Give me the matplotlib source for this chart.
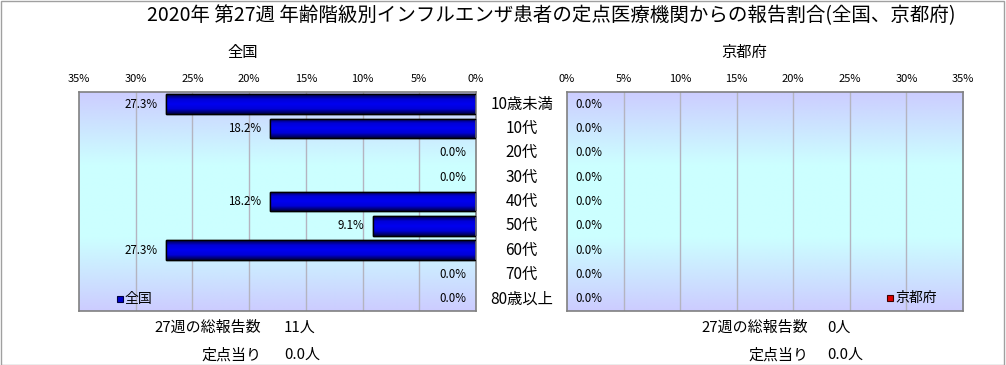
import matplotlib
matplotlib.use("Agg")
import matplotlib.pyplot as plt
import numpy as np
from matplotlib.colors import LinearSegmentedColormap
from matplotlib.transforms import offset_copy

plt.rcParams['font.family'] = ['Noto Sans CJK JP', 'DejaVu Sans']

categories = ["10歳未満", "10代", "20代", "30代", "40代", "50代", "60代", "70代", "80歳以上"]
national = [27.3, 18.2, 0.0, 0.0, 18.2, 9.1, 27.3, 0.0, 0.0]
kyoto = [0.0, 0.0, 0.0, 0.0, 0.0, 0.0, 0.0, 0.0, 0.0]
xticks = [0, 5, 10, 15, 20, 25, 30, 35]
title = "2020年 第27週 年齢階級別インフルエンザ患者の定点医療機関からの報告割合(全国、京都府)"
national_total = "11人"
national_per = "0.0人"
kyoto_total = "0人"
kyoto_per = "0.0人"
week_label = "27週の総報告数"
per_label = "定点当り"

W, H = 1006, 365
fig = plt.figure(figsize=(W / 100, H / 100), dpi=100)
fig.patch.set_facecolor("white")

def fx(px):
    return px / W

def fy(py):
    return 1 - py / H

bg_cmap = LinearSegmentedColormap.from_list("bg", ["#CCCCFF", "#CCFFFF", "#CCFFFF", "#CCCCFF"])
bar_cmap_blue = LinearSegmentedColormap.from_list("bb", ["#000040", "#0000D8", "#0000F0", "#0000D8", "#000040"])

ax_l = fig.add_axes([fx(79), fy(311), fx(397), (311 - 92) / H])
ax_r = fig.add_axes([fx(567), fy(311), fx(396), (311 - 92) / H])

ypos = np.arange(len(categories))

def style(ax, values, invert, color_cmap):
    grad = np.linspace(0, 1, 256).reshape(-1, 1)
    ax.imshow(grad, cmap=bg_cmap, aspect="auto", extent=[0, 35, len(categories) - 0.5, -0.5],
              zorder=0, interpolation="bilinear")
    ax.set_xticks(xticks)
    ax.set_xticklabels([f"{t}%" for t in xticks], fontsize=8)
    ax.xaxis.tick_top()
    ax.tick_params(axis="x", length=0, pad=6)
    ax.set_yticks([])
    for x in xticks[1:-1]:
        ax.axvline(x, color="#B4B4C0", lw=1, zorder=1)
    for s in ax.spines.values():
        s.set_color("#808080")
        s.set_linewidth(1.2)
    for i, v in enumerate(values):
        if v <= 0:
            continue
        b = ax.barh([ypos[i]], [v], height=0.8, color="#0000CC", edgecolor="black", lw=1, zorder=2)[0]
        bgrad = np.linspace(0, 1, 64).reshape(-1, 1)
        im = ax.imshow(bgrad, cmap=color_cmap, aspect="auto",
                       extent=[0, v, b.get_y() + b.get_height(), b.get_y()],
                       zorder=2.5, interpolation="bilinear")
        im.set_clip_path(b)
        ax.add_patch(plt.Rectangle((0, b.get_y()), v, b.get_height(), fill=False,
                                   edgecolor="black", lw=1, zorder=3))
    if invert:
        ax.set_xlim(35, 0)
    else:
        ax.set_xlim(0, 35)
    ax.set_ylim(len(categories) - 0.5, -0.5)

style(ax_l, national, True, bar_cmap_blue)
style(ax_r, kyoto, False, bar_cmap_blue)

# value labels
for i, v in enumerate(national):
    off = -6 if v > 0 else -7
    tr = offset_copy(ax_l.transData, fig=fig, x=off, y=0, units="points")
    ax_l.text(v, i, f"{v:.1f}%", transform=tr, ha="right", va="center", fontsize=8.3, zorder=4)
for i, v in enumerate(kyoto):
    tr = offset_copy(ax_r.transData, fig=fig, x=6, y=0, units="points")
    ax_r.text(v, i, f"{v:.1f}%", transform=tr, ha="left", va="center", fontsize=8.3, zorder=4)

# category labels
for i, c in enumerate(categories):
    ycen = 92 + (i + 0.5) * (311 - 92) / len(categories)
    fig.text(fx(521.5), fy(ycen), c, ha="center", va="center", fontsize=11)

# legends
fig.add_artist(plt.Rectangle((fx(117), fy(302)), fx(6), 6 / H, transform=fig.transFigure,
                             facecolor="#0000CC", edgecolor="#000040", lw=0.8))
fig.text(fx(125), fy(299), "全国", ha="left", va="center", fontsize=10)
fig.add_artist(plt.Rectangle((fx(887), fy(301)), fx(6), 6 / H, transform=fig.transFigure,
                             facecolor="#DD0000", edgecolor="#400000", lw=0.8))
fig.text(fx(895), fy(298), "京都府", ha="left", va="center", fontsize=10)

# titles
fig.text(fx(551), fy(16), title, ha="center", va="center", fontsize=14)
fig.text(fx(243), fy(52), "全国", ha="center", va="center", fontsize=11)
fig.text(fx(744), fy(52), "京都府", ha="center", va="center", fontsize=11)

# bottom info
fig.text(fx(261), fy(328), week_label, ha="right", va="center", fontsize=10.8)
fig.text(fx(284), fy(328), national_total, ha="left", va="center", fontsize=10.8)
fig.text(fx(261), fy(355), per_label, ha="right", va="center", fontsize=10.8)
fig.text(fx(284), fy(355), national_per, ha="left", va="center", fontsize=10.8)
fig.text(fx(808), fy(328), week_label, ha="right", va="center", fontsize=10.8)
fig.text(fx(827), fy(328), kyoto_total, ha="left", va="center", fontsize=10.8)
fig.text(fx(808), fy(355), per_label, ha="right", va="center", fontsize=10.8)
fig.text(fx(827), fy(355), kyoto_per, ha="left", va="center", fontsize=10.8)

# outer border
fig.add_artist(plt.Rectangle((0.0005, 0.001), 0.998, 0.997, transform=fig.transFigure,
                             fill=False, edgecolor="#A0A0A0", lw=1))

fig.savefig("out.png", dpi=100)
